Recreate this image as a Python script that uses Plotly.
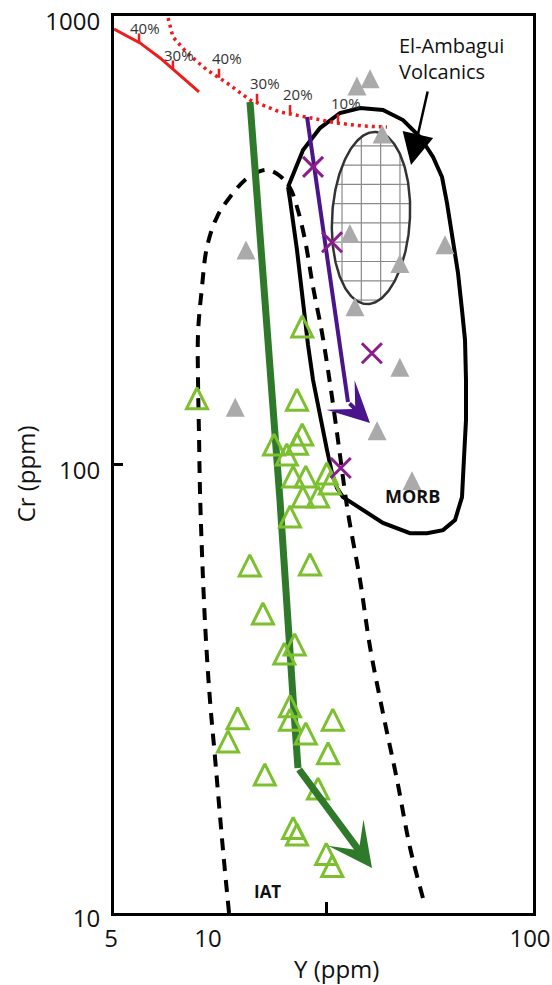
import numpy as np
import plotly.graph_objects as go

# ---------------- data: Y (ppm) vs Cr (ppm) ----------------
# island-arc tholeiite samples (open green triangles)
iat_y = [19.2, 9.05, 18.5, 19.2, 15.7, 18.5, 17.2, 18.0, 19.7, 22.9, 23.4, 19.3, 21.5, 17.6,
         13.2, 20.3, 14.5, 18.2, 16.9, 17.6, 12.1, 17.6, 23.9, 19.7, 11.3, 23.1, 14.7, 21.5,
         18.0, 18.5, 22.8, 23.8]
iat_cr = [199.5, 138, 137, 114.6, 108.8, 109.3, 103.4, 92.3, 92.3, 93.8, 89.1, 83.3, 83.3, 75.2,
          58.5, 58.8, 45.7, 39.0, 37.2, 28.4, 26.7, 26.5, 26.5, 24.7, 23.7, 22.3, 20.0, 18.6,
          15.2, 14.7, 13.3, 12.5]

# grey filled triangles
grey_y = [31.2, 28.4, 34.0, 12.85, 27.0, 53.3, 38.6, 28.0, 38.6, 11.9, 32.8, 42.1]
grey_cr = [713, 687, 537, 296, 322, 304, 276, 221, 162, 132, 117, 90.5]

# purple crosses
cross_y = [20.75, 23.76, 31.6, 25.3]
cross_cr = [461, 313, 177, 98.2]

# fractionation trends (arrows)
green_trend_y = [13.22, 16.38, 17.98, 18.63, 31.63]
green_trend_cr = [643.1, 83.3, 30.3, 21.05, 12.60]
purple_trend_y = [19.88, 26.64, 31.18]
purple_trend_cr = [595.4, 137.8, 123.7]

# partial-melting curves
melt_solid_y = [5.0, 6.02, 6.95, 8.43, 9.18]
melt_solid_cr = [935.5, 870.9, 806.2, 712.6, 677.0]
melt_dot_y = [7.36, 7.62, 8.43, 9.72, 11.22, 13.22, 16.38, 20.31, 24.63, 29.66, 35.21]
melt_dot_cr = [990, 898, 827, 758, 708.9, 649.7, 610.9, 592.3, 577.2, 568.4, 565.5]
solid_tick_y = [5.98, 7.62]
solid_tick_txt = ["40%", "30%"]
dot_tick_y = [10.59, 13.9, 17.6, 24.8]
dot_tick_txt = ["40%", "30%", "20%", "10%"]

# discrimination fields
iat_field_y = [11.38, 10.90, 10.29, 9.93, 9.65, 9.45, 9.25, 9.18, 9.12, 9.12, 9.38, 9.72, 10.44,
               11.46, 12.76, 14.00, 15.04, 16.38, 17.60, 18.50, 19.59, 20.75, 22.13, 23.42,
               24.63, 25.52, 26.64, 29.03, 31.18, 34.21, 37.83, 41.50, 46.20]
iat_field_cr = [10.0, 13.82, 22.3, 29.85, 40.6, 55.3, 86.4, 117.6, 151.9, 196.4, 248.8, 305.4,
                356.3, 394.9, 430.8, 449.0, 453.6, 439.9, 413.6, 375.1, 316.7, 248.8, 196.4,
                151.9, 117.6, 97.2, 78.0, 55.3, 39.2, 27.9, 19.8, 14.0, 10.4]
morb_field_y = [17.35, 19.32, 21.81, 25.16, 29.03, 34.21, 39.48, 44.59, 48.93, 52.18, 54.07,
                56.44, 58.50, 60.19, 61.50, 61.94, 61.94, 61.07, 60.19, 57.26, 52.55, 46.87,
                41.50, 34.21, 29.03, 25.70, 24.63, 23.76, 22.93, 21.81, 20.75, 20.02, 19.32,
                18.50, 17.60, 17.35]
morb_field_cr = [415.7, 502.8, 562.6, 607.7, 623.5, 617.1, 586.2, 537.4, 484.9, 437.5, 382.9,
                 316.7, 267.3, 221.0, 189.5, 154.3, 125.7, 103.9, 84.6, 75.2, 71.4, 70.3, 70.3,
                 74.1, 80.0, 84.6, 88.6, 95.7, 107.7, 127.6, 154.3, 184.7, 232.7, 300.8, 388.9,
                 415.7]

# El-Ambagui volcanics field: centre (Y, Cr) and half-widths in log10 units
ell_center = (31.4, 354.5)
ell_half = (0.121, 0.192)
ell_shear = 0.012
grid_step = (0.06, 0.043)

# ---------------- styles ----------------
RED = "#ee1c1c"
GREEN_DARK = "#2e7a2a"
GREEN_LIGHT = "#7cbf2f"
PURPLE_LINE = "#4a148c"
PURPLE_X = "#8b1c8c"
GREY = "#aaaaaa"
FONT = "Open Sans"

fig = go.Figure()


def lines(x, y, color, width, dash=None, shape="linear"):
    fig.add_trace(go.Scatter(x=x, y=y, mode="lines", hoverinfo="skip",
                             line=dict(color=color, width=width, dash=dash, shape=shape)))


# IAT field (dashed) and MORB field (solid)
lines(iat_field_y, iat_field_cr, "black", 4, dash="12px,9px", shape="spline")
lines(morb_field_y, morb_field_cr, "black", 4)

# hatched ellipse
cx, cy = np.log10(ell_center)
a, b = ell_half
s = ell_shear

gx, gy = [], []
for k in range(-4, 4):
    d = (k + 0.5) * grid_step[0]
    A = s * s / a ** 2 + 1
    B = -2 * d * s / a ** 2
    C = d * d / a ** 2 - 1
    disc = B * B - 4 * A * C
    if disc <= 0:
        continue
    u1 = (-B - np.sqrt(disc)) / (2 * A)
    u2 = (-B + np.sqrt(disc)) / (2 * A)
    gx += [10 ** (cx + d), 10 ** (cx + d), None]
    gy += [10 ** (cy + b * u1), 10 ** (cy + b * u2), None]
for k in range(-6, 7):
    off = -0.011 + k * grid_step[1]
    u = off / b
    if abs(u) >= 1:
        continue
    w = a * np.sqrt(1 - u * u)
    gx += [10 ** (cx + s * u - w), 10 ** (cx + s * u + w), None]
    gy += [10 ** (cy + off), 10 ** (cy + off), None]
lines(gx, gy, "#8a8a8a", 1.2)

t = np.linspace(0, 2 * np.pi, 241)
lines(10 ** (cx + a * np.cos(t) + s * np.sin(t)), 10 ** (cy + b * np.sin(t)), "#333333", 2.5)

# melting curves with tick marks
lines(melt_solid_y, melt_solid_cr, RED, 3)
lines(melt_dot_y, melt_dot_cr, RED, 3.5, dash="3px,4px")

TICK = 0.02
annotations = []


def curve_ticks(cx_, cy_, tx, labels, xs, ys):
    lx = np.log10(tx)
    ly = np.interp(lx, np.log10(cx_), np.log10(cy_))
    px, py = [], []
    for x0, y0, lab in zip(lx, ly, labels):
        px += [10 ** x0, 10 ** x0, None]
        py += [10 ** y0, 10 ** (y0 + TICK), None]
        annotations.append(dict(x=x0, y=y0 + TICK, text=lab, showarrow=False,
                                xshift=xs, yshift=ys, xanchor="center", yanchor="middle",
                                font=dict(size=15, color="#333333", family=FONT)))
    lines(px, py, RED, 2.5)


curve_ticks(melt_solid_y, melt_solid_cr, solid_tick_y, solid_tick_txt, 6, 5)
curve_ticks(melt_dot_y, melt_dot_cr, dot_tick_y, dot_tick_txt, 8, 11)

# trend arrows
lines(green_trend_y[:-1], green_trend_cr[:-1], GREEN_DARK, 7)
lines(purple_trend_y[:-1], purple_trend_cr[:-1], PURPLE_LINE, 4)
for ty, tc, col, w, sz in [(green_trend_y, green_trend_cr, GREEN_DARK, 7, 1.05),
                           (purple_trend_y, purple_trend_cr, PURPLE_LINE, 4, 1.7)]:
    annotations.append(dict(x=np.log10(ty[-1]), y=np.log10(tc[-1]),
                            ax=np.log10(ty[-2]), ay=np.log10(tc[-2]),
                            axref="x", ayref="y", xref="x", yref="y", text="",
                            showarrow=True, arrowhead=3, arrowsize=sz, arrowwidth=w,
                            arrowcolor=col))

# sample markers
fig.add_trace(go.Scatter(x=grey_y, y=grey_cr, mode="markers", hoverinfo="skip",
                         marker=dict(symbol="arrow-down", angle=180, size=19,
                                     standoff=12.7, color=GREY, line=dict(width=0))))
fig.add_trace(go.Scatter(x=iat_y, y=iat_cr, mode="markers", hoverinfo="skip",
                         marker=dict(symbol="arrow-down-open", angle=180, size=21,
                                     standoff=14, color=GREEN_LIGHT,
                                     line=dict(width=3, color=GREEN_LIGHT))))
fig.add_trace(go.Scatter(x=cross_y, y=cross_cr, mode="markers", hoverinfo="skip",
                         marker=dict(symbol="x-thin", size=20, color=PURPLE_X,
                                     line=dict(width=3, color=PURPLE_X))))

# labels
annotations += [
    dict(x=np.log10(37.83), y=np.log10(802), text="El-Ambagui<br>Volcanics", showarrow=False,
         xanchor="left", yanchor="middle", align="left",
         font=dict(size=20, color="#111111", family=FONT)),
    dict(x=np.log10(41.8), y=np.log10(465.4), text="", showarrow=True, ax=17, ay=-75,
         arrowhead=2, arrowsize=2.5, arrowwidth=2.5, arrowcolor="black"),
    dict(x=np.log10(42.1), y=np.log10(85.1), text="<b>MORB</b>", showarrow=False,
         font=dict(size=18, color="#111111", family=FONT)),
    dict(x=np.log10(14.93), y=np.log10(11.14), text="<b>IAT</b>", showarrow=False,
         font=dict(size=17, color="#111111", family=FONT)),
    dict(xref="paper", yref="paper", x=0.53, y=0, yshift=-55, text="Y (ppm)",
         showarrow=False, yanchor="middle", font=dict(size=24, color="#111111", family=FONT)),
    dict(xref="paper", yref="paper", x=0, y=0.489, xshift=-89, text="Cr (ppm)",
         textangle=-90, showarrow=False, xanchor="center",
         font=dict(size=24, color="#111111", family=FONT)),
]

fig.update_layout(
    width=552, height=985,
    margin=dict(l=114, r=19, t=16, b=72, autoexpand=False),
    plot_bgcolor="white", paper_bgcolor="white",
    showlegend=False,
    annotations=annotations,
    font=dict(family=FONT, color="#111111"),
)
fig.update_xaxes(type="log", range=[np.log10(5), 2], tickvals=[5, 10, 100],
                 ticktext=["5", "10", "100"], ticks="", showgrid=False, zeroline=False,
                 showline=True, mirror=True, linecolor="black", linewidth=3,
                 tickfont=dict(size=24, color="#111111"), ticklabelstandoff=2,
                 ticklabelshift=-3, automargin=False, ticklabeloverflow="allow",
                 minor=dict(tickmode="array", tickvals=[22.8], ticks="inside", ticklen=11,
                            tickwidth=2.5, tickcolor="black", showgrid=False))
fig.update_yaxes(type="log", range=[1, 3], tickvals=[10, 100, 1000],
                 ticktext=["10", "100", "1000"], ticks="inside", ticklen=9, tickwidth=2.5,
                 tickcolor="black", showgrid=False, zeroline=False, showline=True,
                 mirror=True, linecolor="black", linewidth=3,
                 tickfont=dict(size=24, color="#111111"), ticklabelstandoff=6,
                 ticklabelshift=6, automargin=False, ticklabeloverflow="allow")

fig.write_html("out.html")
